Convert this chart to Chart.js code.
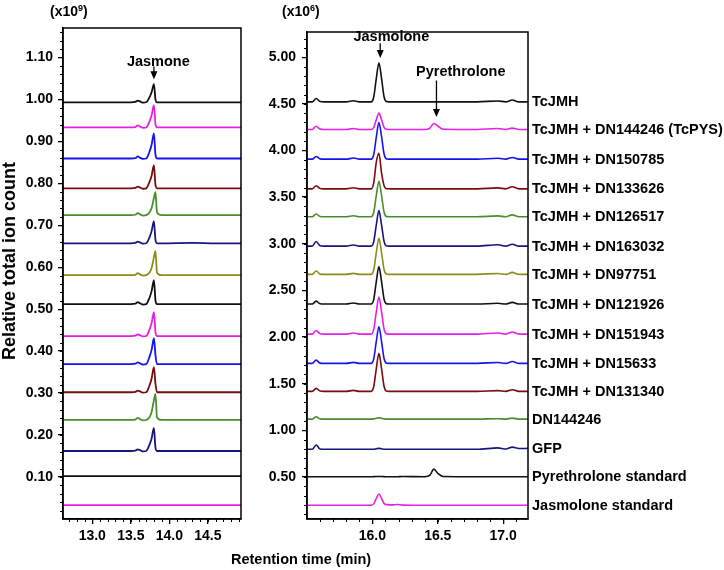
<!DOCTYPE html>
<html><head><meta charset="utf-8">
<script src="https://cdn.jsdelivr.net/npm/chart.js@4.4.1/dist/chart.umd.min.js"></script>
<style>
html,body{margin:0;padding:0;background:#fff;}
body{width:724px;height:570px;position:relative;overflow:hidden;font-family:"Liberation Sans",Arial,sans-serif;font-weight:bold;color:#000;}
canvas{position:absolute;top:0;}
.t{position:absolute;white-space:nowrap;font-size:14px;line-height:14px;}
.t sup{font-size:9px;line-height:9px;vertical-align:5px;}
</style></head><body>
<canvas id="c1" width="250" height="570" style="left:0;width:250px;height:570px"></canvas>
<canvas id="c2" width="474" height="570" style="left:250px;width:474px;height:570px"></canvas>
<div class="t" style="left:50px;top:4px">(x10<sup>9</sup>)</div>
<div class="t" style="left:282px;top:4px">(x10<sup>6</sup>)</div>
<div class="t" style="left:231px;top:552px;font-size:14.5px">Retention time (min)</div>
<div class="t" style="left:9px;top:261px;font-size:18px;line-height:18px;transform:translate(-50%,-50%) rotate(-90deg);">Relative total ion count</div>
<script>
// ---------- DATA ----------
const SAMPLES = ['TcJMH','TcJMH + DN144246 (TcPYS)','TcJMH + DN150785','TcJMH + DN133626','TcJMH + DN126517','TcJMH + DN163032','TcJMH + DN97751','TcJMH + DN121926','TcJMH + DN151943','TcJMH + DN15633','TcJMH + DN131340','DN144246','GFP','Pyrethrolone standard','Jasmolone standard'];
const COLORS = ['#111111','#e61ee6','#1414f0','#7a0c0c','#4c8c2c','#16167c','#8c8c1e','#111111','#e61ee6','#1414f0','#7a0c0c','#4c8c2c','#16167c','#111111','#e61ee6'];

// Left panel: jasmone (x10^9) vs retention time (min)
const TIME_JASMONE = [12.62,13.50,13.56,13.59,13.62,13.66,13.70,13.74,13.77,13.80,13.82,13.84,13.90,14.30,14.60,14.93];
const jasmone_TcJMH      = [0.993,0.993,0.994,0.997,0.995,0.992,0.993,1.004,1.017,1.036,1.000,0.993,0.993,0.993,0.993,0.993];
const jasmone_DN144246T  = [0.933,0.933,0.934,0.938,0.935,0.932,0.933,0.946,0.962,0.986,0.941,0.933,0.933,0.933,0.933,0.933];
const jasmone_DN150785   = [0.859,0.859,0.860,0.864,0.861,0.858,0.859,0.874,0.892,0.919,0.868,0.859,0.859,0.859,0.859,0.859];
const jasmone_DN133626   = [0.788,0.788,0.789,0.792,0.790,0.787,0.788,0.802,0.818,0.843,0.796,0.788,0.788,0.788,0.788,0.788];
const jasmone_DN126517   = [0.724,0.724,0.725,0.729,0.726,0.723,0.724,0.730,0.741,0.765,0.779,0.730,0.724,0.724,0.724,0.724];
const jasmone_DN163032   = [0.657,0.657,0.658,0.661,0.659,0.656,0.657,0.670,0.686,0.710,0.665,0.657,0.657,0.658,0.657,0.657];
const jasmone_DN97751    = [0.581,0.581,0.582,0.586,0.583,0.580,0.581,0.587,0.598,0.624,0.638,0.587,0.581,0.581,0.581,0.581];
const jasmone_DN121926   = [0.512,0.512,0.513,0.517,0.514,0.511,0.512,0.526,0.543,0.569,0.521,0.512,0.512,0.512,0.512,0.512];
const jasmone_DN151943   = [0.436,0.436,0.437,0.440,0.438,0.435,0.436,0.450,0.467,0.493,0.445,0.436,0.436,0.436,0.436,0.436];
const jasmone_DN15633    = [0.369,0.369,0.370,0.373,0.371,0.368,0.369,0.385,0.403,0.431,0.390,0.369,0.369,0.369,0.369,0.369];
const jasmone_DN131340   = [0.302,0.302,0.303,0.306,0.304,0.301,0.302,0.317,0.335,0.362,0.322,0.302,0.302,0.302,0.302,0.302];
const jasmone_DN144246   = [0.236,0.236,0.237,0.241,0.238,0.235,0.236,0.242,0.255,0.283,0.298,0.242,0.236,0.236,0.236,0.236];
const jasmone_GFP        = [0.162,0.162,0.163,0.166,0.164,0.161,0.162,0.176,0.192,0.217,0.170,0.162,0.162,0.162,0.162,0.162];
const jasmone_PyrStd     = [0.102,0.102,0.102,0.102,0.102,0.102,0.102,0.102,0.102,0.102,0.102,0.102,0.102,0.102,0.102,0.102];
const jasmone_JasStd     = [0.033,0.033,0.033,0.033,0.033,0.033,0.033,0.033,0.033,0.033,0.033,0.033,0.033,0.033,0.033,0.033];

// Right panel: jasmolone / pyrethrolone (x10^6) vs retention time (min)
const TIME_JASMOLONE = [15.50,15.54,15.57,15.60,15.63,15.80,15.855,15.90,15.99,16.01,16.03,16.05,16.07,16.09,16.11,16.15,16.19,16.23,16.40,16.44,16.47,16.50,16.54,16.80,16.96,17.02,17.07,17.12,17.19];
const jasmolone_TcJMH     = [4.521,4.521,4.557,4.525,4.521,4.521,4.533,4.521,4.521,4.571,4.773,4.941,4.773,4.571,4.524,4.521,4.521,4.521,4.521,4.521,4.521,4.521,4.521,4.521,4.531,4.521,4.541,4.521,4.521];
const jasmolone_DN144246T = [4.225,4.225,4.260,4.229,4.225,4.225,4.236,4.225,4.225,4.246,4.330,4.400,4.330,4.246,4.227,4.225,4.225,4.225,4.225,4.240,4.290,4.262,4.227,4.225,4.235,4.225,4.240,4.225,4.225];
const jasmolone_DN150785  = [3.907,3.907,3.935,3.910,3.907,3.907,3.919,3.907,3.907,3.954,4.143,4.300,4.151,3.960,3.909,3.907,3.907,3.907,3.907,3.907,3.907,3.907,3.907,3.907,3.917,3.907,3.925,3.907,3.907];
const jasmolone_DN133626  = [3.589,3.589,3.622,3.592,3.589,3.589,3.600,3.589,3.589,3.650,3.875,3.970,3.760,3.620,3.590,3.589,3.589,3.589,3.589,3.589,3.589,3.589,3.589,3.589,3.599,3.589,3.612,3.589,3.589];
const jasmolone_DN126517  = [3.289,3.289,3.320,3.292,3.289,3.289,3.300,3.289,3.289,3.335,3.518,3.670,3.518,3.335,3.291,3.289,3.289,3.289,3.289,3.289,3.289,3.289,3.289,3.289,3.299,3.289,3.310,3.289,3.289];
const jasmolone_DN163032  = [2.975,2.975,3.025,2.979,2.975,2.975,2.987,2.975,2.975,3.021,3.203,3.355,3.203,3.021,2.977,2.975,2.975,2.975,2.975,2.975,2.975,2.975,2.975,2.975,2.990,2.975,2.995,2.975,2.975];
const jasmolone_DN97751   = [2.672,2.672,2.708,2.675,2.672,2.672,2.683,2.672,2.672,2.719,2.905,3.060,2.905,2.719,2.674,2.672,2.672,2.672,2.672,2.672,2.672,2.672,2.672,2.672,2.682,2.672,2.693,2.672,2.672];
const jasmolone_DN121926  = [2.354,2.354,2.385,2.357,2.354,2.354,2.365,2.354,2.354,2.402,2.595,2.755,2.595,2.402,2.356,2.354,2.354,2.354,2.354,2.354,2.354,2.354,2.354,2.354,2.362,2.354,2.372,2.354,2.354];
const jasmolone_DN151943  = [2.032,2.032,2.070,2.036,2.032,2.032,2.043,2.032,2.032,2.080,2.271,2.430,2.271,2.080,2.034,2.032,2.032,2.032,2.032,2.032,2.032,2.032,2.032,2.032,2.044,2.032,2.054,2.032,2.032];
const jasmolone_DN15633   = [1.718,1.718,1.753,1.721,1.718,1.718,1.729,1.718,1.718,1.765,1.953,2.110,1.953,1.765,1.720,1.718,1.718,1.718,1.718,1.718,1.718,1.718,1.718,1.718,1.728,1.718,1.738,1.718,1.718];
const jasmolone_DN131340  = [1.418,1.418,1.450,1.421,1.418,1.418,1.429,1.418,1.418,1.467,1.662,1.825,1.662,1.467,1.420,1.418,1.418,1.418,1.418,1.418,1.418,1.418,1.418,1.418,1.426,1.418,1.436,1.418,1.418];
const jasmolone_DN144246  = [1.121,1.121,1.146,1.123,1.121,1.121,1.121,1.121,1.121,1.123,1.129,1.135,1.129,1.123,1.121,1.121,1.121,1.121,1.121,1.121,1.121,1.121,1.121,1.121,1.125,1.121,1.131,1.121,1.121];
const jasmolone_GFP       = [0.797,0.797,0.843,0.800,0.797,0.797,0.797,0.797,0.797,0.798,0.803,0.807,0.803,0.798,0.797,0.797,0.797,0.797,0.797,0.797,0.797,0.797,0.797,0.797,0.812,0.800,0.820,0.805,0.807];
const jasmolone_PyrStd    = [0.503,0.503,0.503,0.503,0.503,0.503,0.503,0.503,0.503,0.504,0.505,0.506,0.505,0.504,0.503,0.503,0.503,0.505,0.503,0.520,0.585,0.540,0.505,0.503,0.503,0.503,0.503,0.503,0.503];
const jasmolone_JasStd    = [0.197,0.197,0.197,0.197,0.197,0.197,0.197,0.197,0.197,0.212,0.270,0.318,0.270,0.215,0.204,0.201,0.206,0.199,0.197,0.197,0.197,0.197,0.197,0.197,0.197,0.197,0.197,0.197,0.197];

const TICKS_X_LEFT = [13.0,13.5,14.0,14.5];
const TICKS_Y_LEFT = [0.10,0.20,0.30,0.40,0.50,0.60,0.70,0.80,0.90,1.00,1.10];
const TICKS_X_RIGHT = [16.0,16.5,17.0];
const TICKS_Y_RIGHT = [0.50,1.00,1.50,2.00,2.50,3.00,3.50,4.00,4.50,5.00];

const LEFT_SERIES = [jasmone_TcJMH,jasmone_DN144246T,jasmone_DN150785,jasmone_DN133626,jasmone_DN126517,jasmone_DN163032,jasmone_DN97751,jasmone_DN121926,jasmone_DN151943,jasmone_DN15633,jasmone_DN131340,jasmone_DN144246,jasmone_GFP,jasmone_PyrStd,jasmone_JasStd];
const RIGHT_SERIES = [jasmolone_TcJMH,jasmolone_DN144246T,jasmolone_DN150785,jasmolone_DN133626,jasmolone_DN126517,jasmolone_DN163032,jasmolone_DN97751,jasmolone_DN121926,jasmolone_DN151943,jasmolone_DN15633,jasmolone_DN131340,jasmolone_DN144246,jasmolone_GFP,jasmolone_PyrStd,jasmolone_JasStd];

// ---------- RENDER ----------
Chart.defaults.font.family = '"Liberation Sans", Arial, sans-serif';
Chart.defaults.font.weight = 'bold';
Chart.defaults.font.size = 14;
Chart.defaults.color = '#000';

function makeDatasets(times, series, lw){
  const n = series.length;
  return series.map((vals,i)=>({
    label: SAMPLES[i],
    data: vals.map((v,k)=>({x: times[k], y: v})),
    borderColor: COLORS[i],
    borderWidth: lw,
    pointRadius: 0,
    fill: false,
    cubicInterpolationMode: 'monotone',
    order: n - i
  }));
}

const decor = {
  id: 'decor',
  afterDraw(chart, args, o){
    const {ctx, chartArea:a, scales:{x, y}} = chart;
    ctx.save();
    ctx.strokeStyle = '#000'; ctx.lineWidth = 1.5;
    ctx.strokeRect(a.left, a.top, a.right - a.left, a.bottom - a.top);
    ctx.lineWidth = 1;
    for (let v = o.xMinor[0]; v <= o.xMinor[1] + 1e-9; v += o.xMinor[2]) {
      const p = Math.round(x.getPixelForValue(v)) + 0.5;
      ctx.beginPath(); ctx.moveTo(p, a.bottom); ctx.lineTo(p, a.bottom + 3); ctx.stroke();
    }
    for (let v = o.yMinor[0]; v <= o.yMinor[1] + 1e-9; v += o.yMinor[2]) {
      const p = Math.round(y.getPixelForValue(v)) + 0.5;
      ctx.beginPath(); ctx.moveTo(a.left - 3, p); ctx.lineTo(a.left, p); ctx.stroke();
    }
    ctx.fillStyle = '#000';
    ctx.font = 'bold 14.5px "Liberation Sans", Arial, sans-serif';
    ctx.textAlign = 'center'; ctx.textBaseline = 'middle';
    (o.notes || []).forEach(n => {
      ctx.fillText(n.text, x.getPixelForValue(n.tx), y.getPixelForValue(n.ty));
      const ax = x.getPixelForValue(n.ax);
      const y0 = y.getPixelForValue(n.ay0), y1 = y.getPixelForValue(n.ay1);
      ctx.lineWidth = 1.3;
      ctx.beginPath(); ctx.moveTo(ax, y0); ctx.lineTo(ax, y1 - 6); ctx.stroke();
      ctx.beginPath(); ctx.moveTo(ax - 3.5, y1 - 8); ctx.lineTo(ax + 3.5, y1 - 8); ctx.lineTo(ax, y1); ctx.closePath(); ctx.fill();
    });
    if (o.labels) {
      ctx.textAlign = 'left';
      chart.data.datasets.forEach(ds => {
        const last = ds.data[ds.data.length - 1].y;
        ctx.fillText(ds.label, a.right + 4, y.getPixelForValue(last) + 0.5);
      });
    }
    ctx.restore();
  }
};

function axisOpts(min, max, ticks, dec, fitSize, isX, pad){
  return {
    type: 'linear', min, max,
    afterBuildTicks: s => { s.ticks = ticks.map(v => ({value: v})); },
    afterFit: s => { if (isX) s.height = fitSize; else s.width = fitSize; },
    ticks: { callback: v => Number(v).toFixed(dec), padding: pad, autoSkip: false, maxRotation: 0, font: {size: 14, weight: 'bold'} },
    grid: { drawOnChartArea: false, drawTicks: true, tickLength: 5, color: '#000', lineWidth: 1.3 },
    border: { display: true, color: '#000', width: 1.5 }
  };
}

function build(id, times, series, cfg){
  return new Chart(document.getElementById(id), {
    type: 'line',
    data: { datasets: makeDatasets(times, series, cfg.lw) },
    options: {
      responsive: false, animation: false, events: [],
      layout: { padding: cfg.padding },
      plugins: { legend: {display: false}, tooltip: {enabled: false}, decor: cfg.decor },
      scales: {
        x: axisOpts(cfg.xmin, cfg.xmax, cfg.xticks, 1, 51, true, 4),
        y: axisOpts(cfg.ymin, cfg.ymax, cfg.yticks, 2, cfg.yw, false, cfg.ypad)
      }
    },
    plugins: [decor]
  });
}

build('c1', TIME_JASMONE, LEFT_SERIES, {
  lw: 1.8,
  padding: {top: 28, right: 9, left: 0, bottom: 0},
  xmin: 12.62, xmax: 14.93, xticks: TICKS_X_LEFT,
  ymin: 0, ymax: 1.17, yticks: TICKS_Y_LEFT, yw: 63, ypad: 5,
  decor: { xMinor: [12.7, 14.9, 0.1], yMinor: [0.02, 1.16, 0.02],
    notes: [{text: 'Jasmone', tx: 13.857, ty: 1.090, ax: 13.80, ay0: 1.078, ay1: 1.048}] }
});

build('c2', TIME_JASMOLONE, RIGHT_SERIES, {
  lw: 1.6,
  padding: {top: 32, right: 196, left: 0, bottom: 0},
  xmin: 15.50, xmax: 17.19, xticks: TICKS_X_RIGHT,
  ymin: 0.05, ymax: 5.27, yticks: TICKS_Y_RIGHT, yw: 57, ypad: 6,
  decor: { xMinor: [15.6, 17.1, 0.1], yMinor: [0.1, 5.2, 0.1], labels: true,
    notes: [{text: 'Jasmolone', tx: 16.145, ty: 5.214, ax: 16.06, ay0: 5.15, ay1: 4.99},
            {text: 'Pyrethrolone', tx: 16.676, ty: 4.84, ax: 16.49, ay0: 4.75, ay1: 4.36}] }
});
</script>
</body></html>
